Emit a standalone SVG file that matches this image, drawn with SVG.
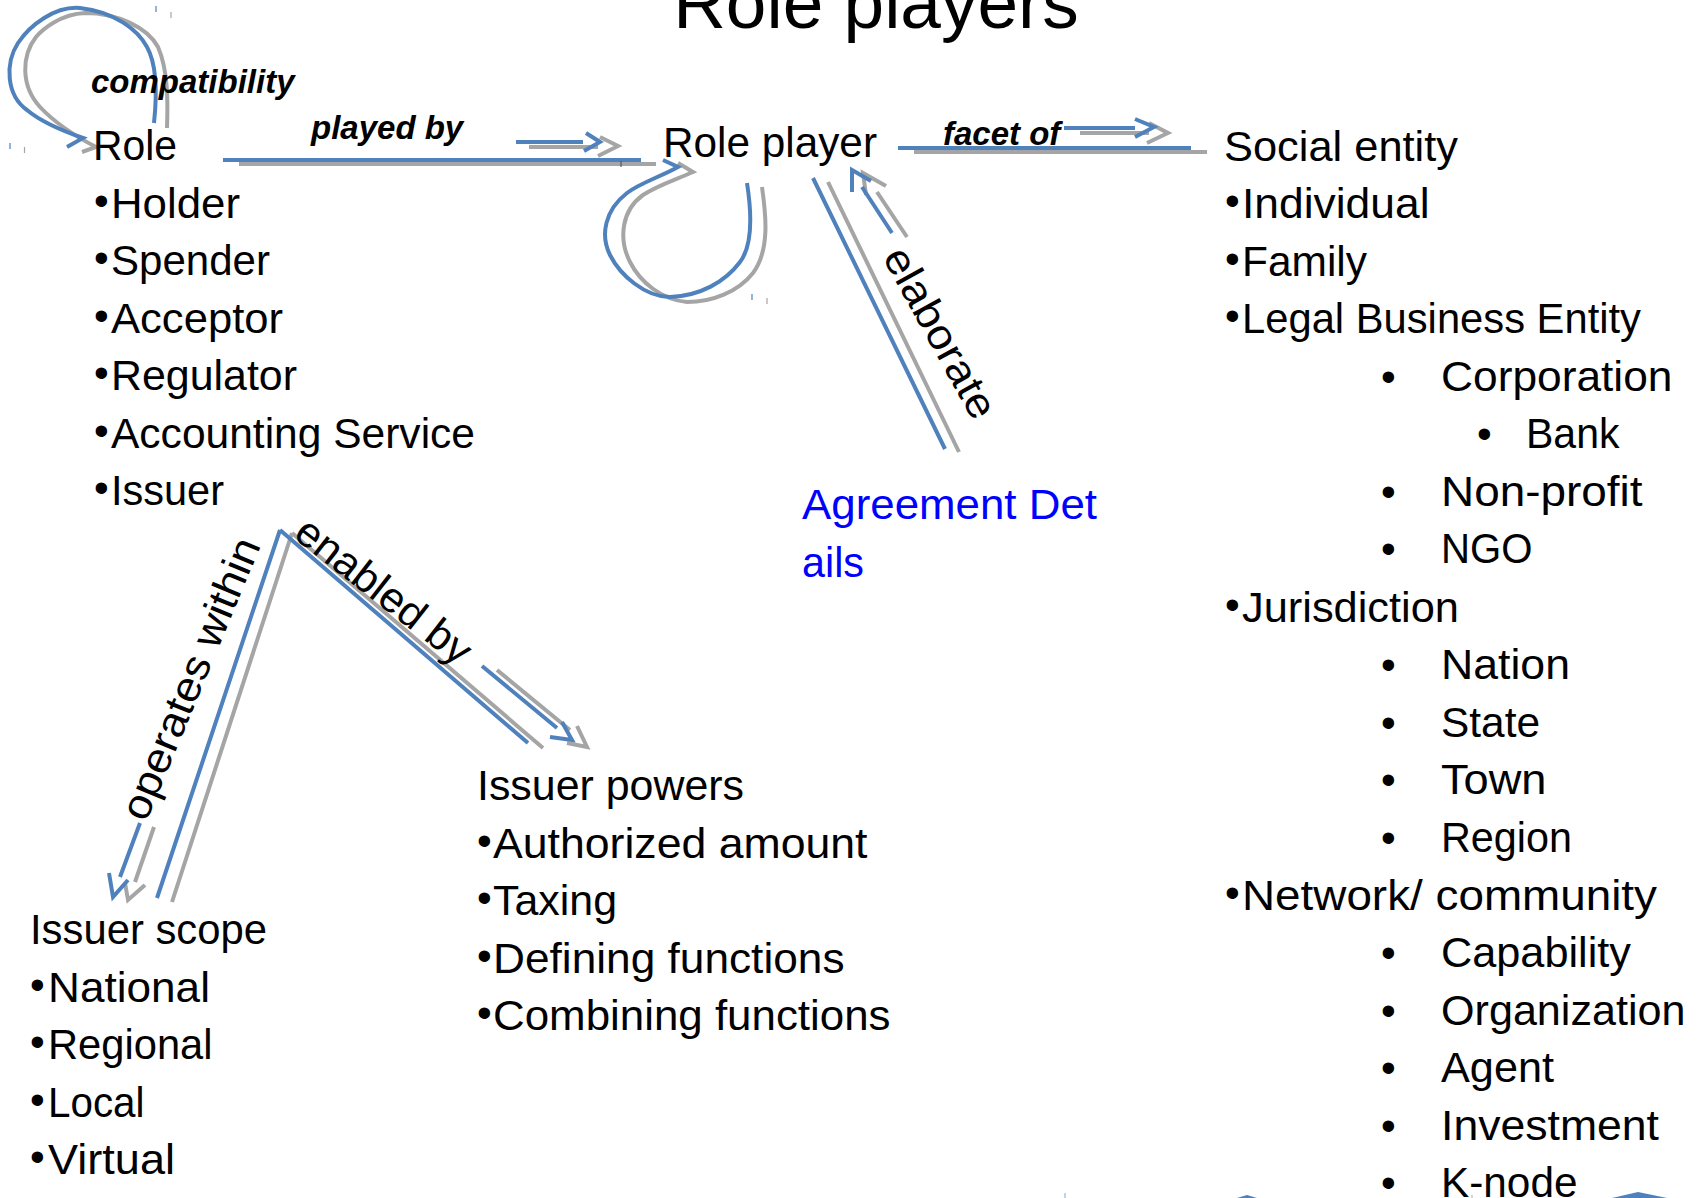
<svg xmlns="http://www.w3.org/2000/svg" width="1698" height="1198" viewBox="0 0 1698 1198">
<style>
.t{font-family:"Liberation Sans",Arial,sans-serif;font-size:42px;fill:#000}
.ttl{font-family:"Liberation Sans",Arial,sans-serif;font-size:73px;fill:#000}
.lbl{font-family:"Liberation Sans",Arial,sans-serif;font-size:33px;font-weight:bold;font-style:italic;fill:#000}
.link{fill:#0000ff}
.b{stroke:#4f81bd;stroke-width:4;fill:none;stroke-linejoin:miter}
.g{stroke:#a5a5a5;stroke-width:4;fill:none;stroke-linejoin:miter}
.tick{stroke-width:1.2;fill:none}
</style>
<rect width="1698" height="1198" fill="#fff"/>

<g id="title"><text class="ttl" x="876" y="28" text-anchor="middle">Role players</text></g>

<g id="connectors">
  <g id="compatibility">
    <path class="g" d="M167,128 C168,100 168,70 158,47 C148,28 118,13 85,13 C60,14 42,30 36,37 C22,55 20,85 40,107 C55,123 75,136 96,147 L82,152"/>
    <path class="b" d="M154,123 C157,95 157,65 147,47 C138,30 115,12 80,8 C55,6 30,25 18,43 C5,63 6,95 27,110 C40,121 60,130 83,138 L67,147"/>
    <path class="tick" stroke="#4f81bd" d="M156,6V12 M10,143V149"/>
    <path class="tick" stroke="#a5a5a5" d="M171,12V18 M24.5,147V153"/>
    <text class="lbl" x="91" y="93">compatibility</text>
  </g>
  <g id="played-by">
    <path class="g" d="M239,164H656 M529,147H598 M600,137L618,146L598,156"/>
    <path class="b" d="M223,160H641 M516,142H583 M586,133L600,142L584,151"/>
    <path class="tick" stroke="#555" d="M621,161V167"/>
    <text class="lbl" x="311" y="139">played by</text>
  </g>
  <g id="facet-of">
    <path class="g" d="M914,152H1207 M1080,133H1149 M1149,123L1168,133L1147,143"/>
    <path class="b" d="M898,148H1191 M1064,128H1135 M1135,119L1154,127L1135,137"/>
    <text class="lbl" x="943" y="145">facet of</text>
  </g>
  <g id="role-player-loop">
    <path class="g" d="M762,187 C766,215 770,250 753,273 C738,292 712,302 687,302 C662,300 640,282 630,262 C618,238 622,210 643,195 C658,185 675,180 693,172 L678,163"/>
    <path class="b" d="M747,183 C752,215 753,245 740,262 C725,282 700,296 670,297 C645,297 620,275 610,255 C600,235 605,210 627,193 C640,183 660,177 678,167 L663,160"/>
    <path class="tick" stroke="#4f81bd" d="M752,294V300"/>
    <path class="tick" stroke="#a5a5a5" d="M767,298V304"/>
  </g>
  <g id="elaborate">
    <path class="g" d="M828,182L959,452 M907,237L877,192 M866,195L863,173L886,186"/>
    <path class="b" d="M813,178L945,449 M892,233L862,187 M852,192L852,170L871,181"/>
    <text class="t" transform="translate(882,257) rotate(61)" textLength="189" lengthAdjust="spacingAndGlyphs">elaborate</text>
  </g>
  <g id="operates-within">
    <path class="g" d="M292,533L172,902 M154,827L135,882 M125,883L128,900L145,885"/>
    <path class="b" d="M280,530L157,898 M140,823L120,877 M109,873L113,897L128,880"/>
    <text class="t" transform="translate(146,823) rotate(-67.5)" textLength="301" lengthAdjust="spacingAndGlyphs">operates within</text>
  </g>
  <g id="enabled-by">
    <path class="g" d="M292,533L543,748 M497,670L570,730 M577,726L587,747L567,743"/>
    <path class="b" d="M280,530L528,743 M482,666L557,728 M562,722L572,740L550,737"/>
    <text class="t" transform="translate(292,537) rotate(38)" textLength="211" lengthAdjust="spacingAndGlyphs">enabled by</text>
  </g>
</g>

<g id="role">
  <text class="t" x="93" y="160" textLength="84" lengthAdjust="spacingAndGlyphs">Role</text>
  <text class="t" x="94" y="217.5"><tspan dy="-3">•</tspan><tspan x="111" y="217.5" textLength="129" lengthAdjust="spacingAndGlyphs">Holder</tspan></text>
  <text class="t" x="94" y="275"><tspan dy="-3">•</tspan><tspan x="111" y="275" textLength="159" lengthAdjust="spacingAndGlyphs">Spender</tspan></text>
  <text class="t" x="94" y="332.5"><tspan dy="-3">•</tspan><tspan x="111" y="332.5" textLength="172" lengthAdjust="spacingAndGlyphs">Acceptor</tspan></text>
  <text class="t" x="94" y="390"><tspan dy="-3">•</tspan><tspan x="111" y="390" textLength="186" lengthAdjust="spacingAndGlyphs">Regulator</tspan></text>
  <text class="t" x="94" y="447.5"><tspan dy="-3">•</tspan><tspan x="111" y="447.5" textLength="364" lengthAdjust="spacingAndGlyphs">Accounting Service</tspan></text>
  <text class="t" x="94" y="505"><tspan dy="-3">•</tspan><tspan x="111" y="505" textLength="113" lengthAdjust="spacingAndGlyphs">Issuer</tspan></text>
</g>

<g id="role-player"><text class="t" x="663" y="157" textLength="214" lengthAdjust="spacingAndGlyphs">Role player</text></g>

<g id="agreement-details">
  <text class="t link" x="802" y="519" textLength="295" lengthAdjust="spacingAndGlyphs">Agreement Det</text>
  <text class="t link" x="802" y="577" textLength="62" lengthAdjust="spacingAndGlyphs">ails</text>
</g>

<g id="social-entity">
  <text class="t" x="1224" y="160.5" textLength="234" lengthAdjust="spacingAndGlyphs">Social entity</text>
  <text class="t" x="1225" y="218"><tspan dy="-3">•</tspan><tspan x="1242" y="218" textLength="187.5" lengthAdjust="spacingAndGlyphs">Individual</tspan></text>
  <text class="t" x="1225" y="275.5"><tspan dy="-3">•</tspan><tspan x="1242" y="275.5" textLength="125" lengthAdjust="spacingAndGlyphs">Family</tspan></text>
  <text class="t" x="1225" y="333"><tspan dy="-3">•</tspan><tspan x="1242" y="333" textLength="399" lengthAdjust="spacingAndGlyphs">Legal Business Entity</tspan></text>
  <text class="t" x="1381" y="390.5">•<tspan x="1441" textLength="231.5" lengthAdjust="spacingAndGlyphs">Corporation</tspan></text>
  <text class="t" x="1477" y="448">•<tspan x="1526" textLength="93.5" lengthAdjust="spacingAndGlyphs">Bank</tspan></text>
  <text class="t" x="1381" y="505.5">•<tspan x="1441" textLength="201.5" lengthAdjust="spacingAndGlyphs">Non-profit</tspan></text>
  <text class="t" x="1381" y="563">•<tspan x="1441" textLength="91.5" lengthAdjust="spacingAndGlyphs">NGO</tspan></text>
  <text class="t" x="1225" y="621.5"><tspan dy="-3">•</tspan><tspan x="1242" y="621.5" textLength="217" lengthAdjust="spacingAndGlyphs">Jurisdiction</tspan></text>
  <text class="t" x="1381" y="679">•<tspan x="1441" textLength="129" lengthAdjust="spacingAndGlyphs">Nation</tspan></text>
  <text class="t" x="1381" y="736.5">•<tspan x="1441" textLength="99" lengthAdjust="spacingAndGlyphs">State</tspan></text>
  <text class="t" x="1381" y="794">•<tspan x="1441" textLength="105.5" lengthAdjust="spacingAndGlyphs">Town</tspan></text>
  <text class="t" x="1381" y="851.5">•<tspan x="1441" textLength="131" lengthAdjust="spacingAndGlyphs">Region</tspan></text>
  <text class="t" x="1225" y="909.5"><tspan dy="-3">•</tspan><tspan x="1242" y="909.5" textLength="415" lengthAdjust="spacingAndGlyphs">Network/ community</tspan></text>
  <text class="t" x="1381" y="967">•<tspan x="1441" textLength="190" lengthAdjust="spacingAndGlyphs">Capability</tspan></text>
  <text class="t" x="1381" y="1024.5">•<tspan x="1441" textLength="244.5" lengthAdjust="spacingAndGlyphs">Organization</tspan></text>
  <text class="t" x="1381" y="1082">•<tspan x="1441" textLength="113" lengthAdjust="spacingAndGlyphs">Agent</tspan></text>
  <text class="t" x="1381" y="1139.5">•<tspan x="1441" textLength="218" lengthAdjust="spacingAndGlyphs">Investment</tspan></text>
  <text class="t" x="1381" y="1197">•<tspan x="1441" textLength="136.5" lengthAdjust="spacingAndGlyphs">K-node</tspan></text>
</g>

<g id="issuer-scope">
  <text class="t" x="30" y="944" textLength="237" lengthAdjust="spacingAndGlyphs">Issuer scope</text>
  <text class="t" x="30" y="1001.5"><tspan dy="-3">•</tspan><tspan x="48" y="1001.5" textLength="162" lengthAdjust="spacingAndGlyphs">National</tspan></text>
  <text class="t" x="30" y="1059"><tspan dy="-3">•</tspan><tspan x="48" y="1059" textLength="164.5" lengthAdjust="spacingAndGlyphs">Regional</tspan></text>
  <text class="t" x="30" y="1116.5"><tspan dy="-3">•</tspan><tspan x="48" y="1116.5" textLength="96.5" lengthAdjust="spacingAndGlyphs">Local</tspan></text>
  <text class="t" x="30" y="1174"><tspan dy="-3">•</tspan><tspan x="48" y="1174" textLength="127" lengthAdjust="spacingAndGlyphs">Virtual</tspan></text>
</g>

<g id="issuer-powers">
  <text class="t" x="477" y="800" textLength="267" lengthAdjust="spacingAndGlyphs">Issuer powers</text>
  <text class="t" x="477" y="857.5"><tspan dy="-3">•</tspan><tspan x="493" y="857.5" textLength="374.5" lengthAdjust="spacingAndGlyphs">Authorized amount</tspan></text>
  <text class="t" x="477" y="915"><tspan dy="-3">•</tspan><tspan x="493" y="915" textLength="124" lengthAdjust="spacingAndGlyphs">Taxing</tspan></text>
  <text class="t" x="477" y="972.5"><tspan dy="-3">•</tspan><tspan x="493" y="972.5" textLength="351.5" lengthAdjust="spacingAndGlyphs">Defining functions</tspan></text>
  <text class="t" x="477" y="1030"><tspan dy="-3">•</tspan><tspan x="493" y="1030" textLength="397.5" lengthAdjust="spacingAndGlyphs">Combining functions</tspan></text>
</g>

<g id="bottom-shapes">
  <polygon points="1237,1198 1247,1195 1257,1198" fill="#4f81bd"/>
  <polygon points="1612,1198 1638,1192 1667,1198" fill="#4f81bd"/>
  <path class="tick" stroke="#9db3d6" d="M1065,1193V1198"/>
  <path class="tick" stroke="#bbb" d="M1472,1195V1198"/>
</g>
</svg>
